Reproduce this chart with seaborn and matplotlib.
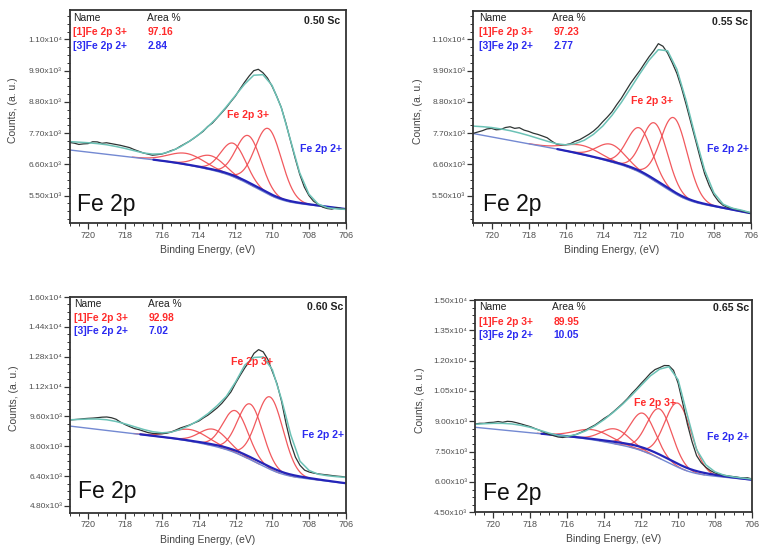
import numpy as np
import pandas as pd
import matplotlib
matplotlib.use("Agg")
import matplotlib.pyplot as plt
from matplotlib.ticker import MultipleLocator, FixedLocator, FuncFormatter
import seaborn as sns

sns.set_theme(style="ticks")
plt.rcParams["font.family"] = ["Liberation Sans", "DejaVu Sans"]

# ---------------------------------------------------------------- data
samples = ["0.50 Sc", "0.55 Sc", "0.60 Sc", "0.65 Sc"]
area_fe3 = ["97.16", "97.23", "92.98", "89.95"]
area_fe2 = ["2.84", "2.77", "7.02", "10.05"]

# binding-energy grids of the measured spectrum (0.25 eV) and of the fit envelope (0.5 eV)
energy_raw = np.linspace(721.0, 706.0, 61)
energy_env = np.linspace(721.0, 706.0, 31)

counts_050 = [7370, 7345, 7300, 7320, 7330, 7395, 7390, 7340, 7360, 7330, 7300, 7270,
              7230, 7190, 7120, 7060, 7000, 6960, 6920, 6940, 6960, 7010, 7080, 7130,
              7230, 7320, 7410, 7520, 7640, 7760, 7930, 8050, 8230, 8410, 8590, 8800,
              9000, 9250, 9490, 9710, 9900, 9950, 9830, 9640, 9350, 9000, 8600, 8050,
              7430, 6820, 6250, 5800, 5500, 5300, 5190, 5090, 5040, 5020, 5070, 5040, 5010]
counts_055 = [7693, 7740, 7787, 7850, 7869, 7820, 7833, 7900, 7927, 7870, 7893, 7810,
              7764, 7700, 7658, 7600, 7540, 7420, 7318, 7290, 7295, 7330, 7412, 7470,
              7564, 7660, 7775, 7920, 8103, 8270, 8455, 8700, 8924, 9190, 9452, 9680,
              9900, 10150, 10390, 10600, 10850, 10760, 10520, 10180, 9804, 9300, 8707, 8090,
              7476, 6850, 6270, 5850, 5524, 5300, 5160, 5090, 5055, 5010, 4970, 4930, 4880]
counts_060 = [9410, 9430, 9450, 9480, 9497, 9510, 9533, 9560, 9569, 9530, 9450, 9290,
              9160, 9050, 8950, 8890, 8810, 8730, 8690, 8670, 8670, 8700, 8760, 8870,
              8980, 9060, 9140, 9250, 9350, 9520, 9670, 9860, 10060, 10300, 10600, 10920,
              11380, 11800, 12200, 12550, 12980, 13180, 13060, 12660, 12000, 11350, 10400, 9180,
              8150, 7420, 6980, 6720, 6620, 6560, 6520, 6490, 6462, 6430, 6400, 6380, 6340]
counts_065 = [8868, 8900, 8901, 8940, 8951, 8990, 8951, 9000, 8984, 8930, 8868, 8800,
              8736, 8640, 8555, 8450, 8357, 8290, 8225, 8200, 8242, 8290, 8357, 8460,
              8571, 8700, 8819, 8980, 9148, 9290, 9478, 9680, 9890, 10120, 10385, 10620,
              10879, 11120, 11374, 11560, 11654, 11760, 11753, 11520, 10879, 9900, 8868, 8000,
              7302, 6950, 6725, 6560, 6445, 6380, 6330, 6290, 6264, 6230, 6198, 6210, 6148]

envelope_050 = [7400, 7380, 7360, 7330, 7290, 7230, 7160, 7080, 7000, 6960, 6970, 7060,
                7210, 7410, 7640, 7920, 8240, 8620, 9020, 9420, 9740, 9760, 9380, 8600,
                7450, 6300, 5550, 5200, 5070, 5030, 5010]
envelope_055 = [7950, 7930, 7900, 7850, 7790, 7710, 7620, 7520, 7420, 7330, 7290, 7330,
                7450, 7660, 7950, 8330, 8780, 9280, 9790, 10270, 10640, 10600, 9950, 8850,
                7580, 6400, 5600, 5200, 5060, 4990, 4900]
envelope_060 = [9420, 9440, 9460, 9460, 9420, 9330, 9200, 9050, 8900, 8780, 8720, 8760,
                8900, 9120, 9400, 9750, 10180, 10680, 11450, 12350, 12760, 12790, 12100, 10500,
                8600, 7200, 6700, 6500, 6420, 6370, 6330]
envelope_065 = [8850, 8880, 8900, 8900, 8870, 8800, 8700, 8560, 8420, 8300, 8260, 8350,
                8530, 8780, 9090, 9450, 9850, 10300, 10780, 11250, 11580, 11700, 11050, 9300,
                7600, 6850, 6500, 6330, 6250, 6190, 6140]

# Fe 2p 3+ multiplet components: centre (eV), height above background, FWHM (eV)
fe3_center_050 = [714.65, 713.35, 712.10, 711.27, 710.20]
fe3_height_050 = [400, 500, 1180, 1700, 2320]
fe3_center_055 = [715.10, 713.55, 712.00, 711.18, 710.15]
fe3_height_055 = [320, 620, 1560, 2040, 2650]
fe3_center_060 = [714.45, 713.20, 712.00, 711.20, 710.13]
fe3_height_060 = [630, 900, 2260, 2980, 3880]
fe3_center_065 = [714.60, 713.40, 711.90, 711.00, 710.00]
fe3_height_065 = [500, 740, 1875, 2445, 3170]
fe3_fwhm = [2.3, 1.8, 1.6, 1.6, 1.7]

# Fe 2p 2+ component: centre, height, FWHM
fe2_center = [711.0, 711.0, 711.0, 711.0]
fe2_height = [55, 55, 140, 190]
fe2_fwhm = [5.0, 5.0, 5.0, 5.0]

# Shirley background: level at 706 eV, linear slope (counts/eV), step height
bg_level = [5020, 4880, 6010, 6099]
bg_slope = [75, 120, 116, 89]
bg_step = [960, 1010, 1332, 1271]

# axis ranges and labelled ticks
y_limits = [(4520, 12040), (4530, 12000), (4440, 16000), (4500, 15000)]
y_ticks = [[5500, 6600, 7700, 8800, 9900, 11000],
           [5500, 6600, 7700, 8800, 9900, 11000],
           [4800, 6400, 8000, 9600, 11200, 12800, 14400, 16000],
           [4500, 6000, 7500, 9000, 10500, 12000, 13500, 15000]]
x_ticks = [720, 718, 716, 714, 712, 710, 708, 706]

# ---------------------------------------------------------------- layout
W, H = 759, 545
# axes boxes in pixels: left, right, top, bottom
boxes = [(69.7, 345.7, 10, 223.3), (473, 751, 11, 223.3),
         (70, 346, 297, 512.7), (475, 752, 300, 512.3)]
# text anchors (axes fraction)
legend_x = [0.011, 0.023, 0.0145, 0.0155]
area_x = [0.279, 0.285, 0.281, 0.279]
row_y = [(0.962, 0.897, 0.831), (0.966, 0.899, 0.833), (0.966, 0.904, 0.842), (0.966, 0.898, 0.835)]
sample_pos = [(0.979, 0.950), (0.990, 0.950), (0.989, 0.955), (0.988, 0.962)]
fe3_label_pos = [(0.646, 0.508), (0.645, 0.577), (0.658, 0.700), (0.650, 0.515)]
fe2_label_pos = [(0.911, 0.348), (0.918, 0.350), (0.915, 0.360), (0.914, 0.356)]
fe2p_pos = [(0.025, 0.086), (0.037, 0.090), (0.030, 0.097), (0.030, 0.090)]
ylabel_x = [-0.204, -0.197, -0.204, -0.200]

RED = "#f0474c"
RED_TXT = "#ff2b2b"
BLUE_TXT = "#2b2bf0"
TEAL = "#6cc2b6"
DATA = "#2e3433"
BG = "#7389d2"
FE2 = "#2424b8"
AX = "#333333"
TICK_TXT = "#505050"

counts_all = [counts_050, counts_055, counts_060, counts_065]
env_all = [envelope_050, envelope_055, envelope_060, envelope_065]
fe3_centers = [fe3_center_050, fe3_center_055, fe3_center_060, fe3_center_065]
fe3_heights = [fe3_height_050, fe3_height_055, fe3_height_060, fe3_height_065]

sup = {3: "\u00b3", 4: "\u2074"}


def sci_label(v, _pos=None):
    e = int(np.floor(np.log10(v)))
    return f"{v / 10 ** e:.2f}x10{sup.get(e, str(e))}"


def gauss(e, c, h, w):
    return h * np.exp(-4 * np.log(2) * ((e - c) / w) ** 2)


e_fine = np.linspace(721.0, 706.0, 901)

fig = plt.figure(figsize=(W / 100, H / 100), dpi=100)

for i in range(4):
    l, r, t, b = boxes[i]
    ax = fig.add_axes([l / W, (H - b) / H, (r - l) / W, (b - t) / H])

    comps = [gauss(e_fine, c, h, w) for c, h, w in zip(fe3_centers[i], fe3_heights[i], fe3_fwhm)]
    fe2 = gauss(e_fine, fe2_center[i], fe2_height[i], fe2_fwhm[i])
    total = np.sum(comps, axis=0) + fe2
    # integrated peak area from the low binding-energy end upward
    cum = np.cumsum(total[::-1])[::-1]
    frac = cum / cum[0]
    bg = bg_level[i] + bg_slope[i] * (e_fine - 706.0) + bg_step[i] * frac

    df_raw = pd.DataFrame({"E": energy_raw, "counts": counts_all[i]})
    df_env = pd.DataFrame({"E": energy_env, "counts": env_all[i]})

    for comp in comps:
        mask = comp > 4
        sns.lineplot(x=e_fine[mask], y=(bg + comp)[mask], ax=ax, color=RED, lw=0.9,
                     estimator=None, sort=False, alpha=0.9)
    sns.lineplot(x=e_fine, y=bg, ax=ax, color=BG, lw=1.0, estimator=None, sort=False)
    m2 = fe2 > 2
    sns.lineplot(x=e_fine[m2], y=(bg + fe2)[m2], ax=ax, color=FE2, lw=1.6,
                 estimator=None, sort=False)
    sns.lineplot(data=df_raw, x="E", y="counts", ax=ax, color=DATA, lw=0.9,
                 estimator=None, sort=False)
    sns.lineplot(data=df_env, x="E", y="counts", ax=ax, color=TEAL, lw=1.1,
                 estimator=None, sort=False)

    ax.set_xlim(721, 706)
    ax.set_ylim(*y_limits[i])
    ax.xaxis.set_major_locator(FixedLocator(x_ticks))
    ax.xaxis.set_minor_locator(MultipleLocator(0.5))
    ax.yaxis.set_major_locator(FixedLocator(y_ticks[i]))
    step = y_ticks[i][1] - y_ticks[i][0]
    ax.yaxis.set_minor_locator(MultipleLocator(step / 4))
    ax.yaxis.set_major_formatter(FuncFormatter(sci_label))
    ax.xaxis.set_major_formatter(FuncFormatter(lambda v, p: f"{v:.0f}"))

    for s in ax.spines.values():
        s.set_visible(True)
        s.set_linewidth(1.3)
        s.set_color(AX)
    ax.tick_params(which="major", direction="out", length=4, width=0.9, color=AX,
                   labelcolor=TICK_TXT, pad=1.5)
    ax.tick_params(axis="y", which="major", labelsize=6.0)
    ax.tick_params(axis="x", which="major", labelsize=6.5)
    ax.tick_params(which="minor", direction="out", length=2, width=0.7, color=AX)

    ax.set_xlabel("Binding Energy, (eV)", fontsize=7.5, color="#444444")
    ax.set_ylabel("Counts, (a. u.)", fontsize=7.5, color="#444444")
    ax.xaxis.set_label_coords(0.5, -0.125)
    ax.xaxis.label.set_va("center")
    ax.yaxis.set_label_coords(ylabel_x[i], 0.53)
    ax.yaxis.label.set_va("center")

    ry = row_y[i]
    tr = ax.transAxes
    ax.text(legend_x[i], ry[0], "Name", transform=tr, fontsize=7.4, color="#222222", va="center")
    ax.text(area_x[i], ry[0], "Area %", transform=tr, fontsize=7.4, color="#222222", va="center")
    ax.text(legend_x[i], ry[1], "[1]Fe 2p 3+", transform=tr, fontsize=7.4, color=RED_TXT,
            fontweight="bold", va="center")
    ax.text(area_x[i] + 0.004, ry[1], area_fe3[i], transform=tr, fontsize=7.4, color=RED_TXT,
            fontweight="bold", va="center")
    ax.text(legend_x[i], ry[2], "[3]Fe 2p 2+", transform=tr, fontsize=7.4, color=BLUE_TXT,
            fontweight="bold", va="center")
    ax.text(area_x[i] + 0.004, ry[2], area_fe2[i], transform=tr, fontsize=7.4, color=BLUE_TXT,
            fontweight="bold", va="center")
    ax.text(*sample_pos[i], samples[i], transform=tr, fontsize=7.6, color="#222222",
            fontweight="bold", ha="right", va="center")
    ax.text(*fe3_label_pos[i], "Fe 2p 3+", transform=tr, fontsize=7.6, color=RED_TXT,
            fontweight="bold", ha="center", va="center")
    ax.text(*fe2_label_pos[i], "Fe 2p 2+", transform=tr, fontsize=7.6, color=BLUE_TXT,
            fontweight="bold", ha="center", va="center")
    ax.text(*fe2p_pos[i], "Fe 2p", transform=tr, fontsize=16.5, color="#111111",
            ha="left", va="center")

fig.savefig("out.png", dpi=100)
